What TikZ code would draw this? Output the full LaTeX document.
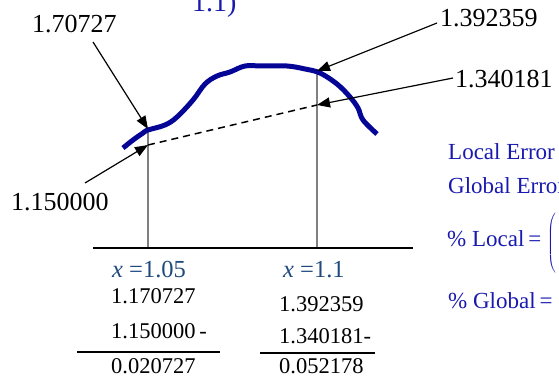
\documentclass[tikz,border=0pt]{standalone}
\usepackage{fontspec}
\setmainfont{Liberation Serif}
\usetikzlibrary{arrows.meta}
\definecolor{curveblue}{RGB}{5,5,150}
\definecolor{txtblue}{RGB}{25,25,175}
\definecolor{xblue}{RGB}{31,73,125}
\definecolor{linegray}{RGB}{128,128,128}
\tikzset{
  bignum/.style={inner sep=0pt, anchor=base west, font=\fontsize{26}{30}\selectfont},
  tabnum/.style={inner sep=0pt, anchor=base west, font=\fontsize{22.5}{26}\selectfont},
  xlab/.style={inner sep=0pt, anchor=base west, text=xblue, font=\fontsize{24.5}{28}\selectfont},
  bluetxt/.style={inner sep=0pt, anchor=base west, text=txtblue, font=\fontsize{23}{27}\selectfont},
  pointer/.style={black, line width=1.2pt, -{Triangle[length=13pt,width=10pt]}},
  guide/.style={linegray, line width=1.5pt},
  rulebar/.style={black, line width=1.6pt},
  curve/.style={curveblue, line width=5pt, line join=round},
}
\begin{document}
\begin{tikzpicture}[x=1pt,y=-1pt]
\useasboundingbox (0,0) rectangle (559,377);
\clip (0,0) rectangle (559,377);
% title fragment
\node[inner sep=0pt, anchor=base west, text=txtblue, font=\fontsize{28}{32}\selectfont] (title) at (192,12) {1.1)};
% key points
\coordinate (p1) at (148,129);
\coordinate (q1) at (148,145);
\coordinate (p2) at (317,71);
\coordinate (q2) at (317,105);
\coordinate (b1) at (148,248);
\coordinate (b2) at (317,248);
\coordinate (axL) at (93,248);
\coordinate (axR) at (413,248);
% guides and axis
\draw[guide] (p1) -- (b1);
\draw[guide] (p2) -- (b2);
\draw[rulebar] (axL) -- (axR);
% dashed chord
\draw[black, line width=1.5pt, dash pattern=on 7pt off 5pt] (q1) -- (q2);
% curve
\draw[curve] plot[smooth, tension=0.6] coordinates {(123,148) (133,140) (143,133) (148,130) (165,125) (177,117) (193,100) (205,84) (217,76) (230,72) (245,66) (262,66) (287,66) (305,69) (320,73) (337,84) (350,97) (358,108) (363,120) (377,134)};
% labels
\node[bignum] (l1) at (32,33) {1.70727};
\node[bignum] (l2) at (440,27) {1.392359};
\node[bignum] (l3) at (455,88) {1.340181};
\node[bignum] (l4) at (11,210) {1.150000};
% pointers
\coordinate (s1) at (93,42);
\coordinate (s2) at (437,23);
\coordinate (s3) at (453,78);
\coordinate (s4) at (85,183);
\draw[pointer] (s1) -- (p1);
\draw[pointer] (s2) -- (p2);
\draw[pointer] (s3) -- (q2);
\draw[pointer] (s4) -- (q1);
% right blue text
\node[bluetxt] (le) at (448,159) {Local Error};
\node[bluetxt] (ge) at (448,193) {Global Error};
\node[bluetxt] (pl) at (447,246) {\% Local\,=};
\node[bluetxt] (pg) at (448,308) {\% Global\,=};
\node[inner sep=0pt, anchor=west, text=txtblue] (paren) at (547,243) {$\left(\rule[-28pt]{0pt}{56pt}\right.$};
% left table
\node[xlab] (x1) at (112,277) {\textit{x} =1.05};
\node[tabnum] (a1) at (111,303) {1.170727};
\node[tabnum] (a2) at (111,338) {1.150000\,-};
\coordinate (t1L) at (77,352);
\coordinate (t1R) at (220,352);
\draw[rulebar] (t1L) -- (t1R);
\node[tabnum] (a3) at (111,373) {0.020727};
% right table
\node[xlab] (x2) at (283,277) {\textit{x} =1.1};
\node[tabnum] (c1) at (279,311) {1.392359};
\node[tabnum] (c2) at (279,343) {1.340181-};
\coordinate (t2L) at (260,353);
\coordinate (t2R) at (375,353);
\draw[rulebar] (t2L) -- (t2R);
\node[tabnum] (c3) at (279,373) {0.052178};
\end{tikzpicture}
\end{document}
